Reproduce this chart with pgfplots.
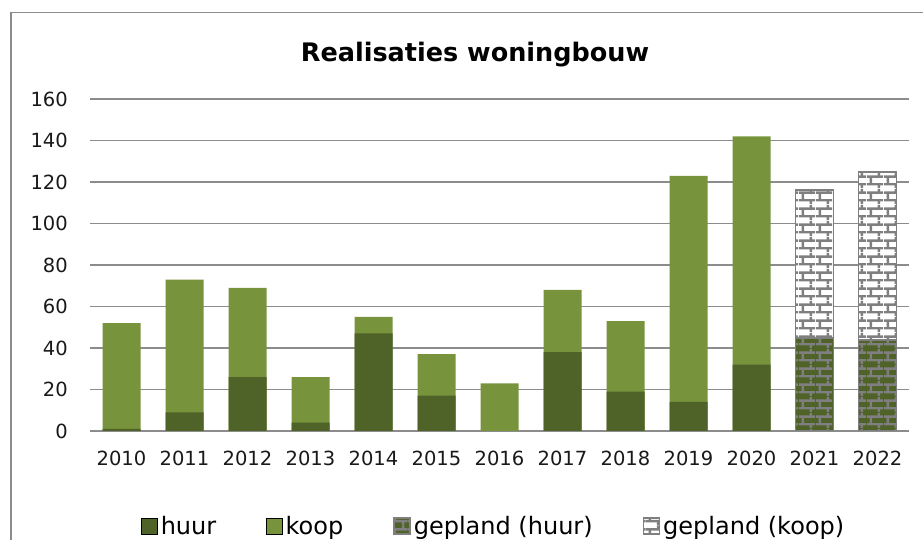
\documentclass[border=0pt]{standalone}
\usepackage{fontspec}
\setmainfont{DejaVu Sans}
\usepackage{pgfplots}
\pgfplotsset{compat=1.18}
\usetikzlibrary{patterns.meta}
\definecolor{huurc}{HTML}{4F6228}
\definecolor{koopc}{HTML}{77933C}
\definecolor{gridc}{HTML}{8C8C8C}
\definecolor{brickc}{HTML}{7F7F7F}
\tikzdeclarepattern{
  name=bricksEx, type=uncolored,
  bounding box={(0bp,0bp) and (17bp,16bp)},
  tile size={(17bp,16bp)},
  code={
    \fill (0bp,2.75bp) rectangle (17bp,5.25bp);
    \fill (0bp,10.75bp) rectangle (17bp,13.25bp);
    \fill (2.75bp,4bp) rectangle (5.25bp,12bp);
    \fill (11.25bp,12bp) rectangle (13.75bp,16bp);
    \fill (11.25bp,0bp) rectangle (13.75bp,4bp);
  }
}
\begin{document}
\begin{tikzpicture}
\useasboundingbox (0,0) rectangle (923bp,540bp);
\draw[gridc, line width=1.5bp] (11bp,-10bp) -- (11bp,527.5bp) -- (940bp,527.5bp);
\node[anchor=base, font=\fontsize{25.5bp}{30bp}\selectfont\bfseries] at (475bp,478.5bp) {Realisaties woningbouw};
\begin{axis}[
  at={(90bp,109bp)}, anchor=south west,
  scale only axis, width=819bp, height=332bp,
  xmin=-0.5, xmax=12.5, ymin=0, ymax=160,
  ytick={0,20,...,160},
  xtick={0,...,12},
  xticklabels={2010,2011,2012,2013,2014,2015,2016,2017,2018,2019,2020,2021,2022},
  axis x line*=bottom, axis y line*=left,
  y axis line style={draw=none},
  x axis line style={gridc, line width=2bp},
  major tick length=0pt,
  ymajorgrids, grid style={gridc, line width=1.7bp},
  /pgf/number format/assume math mode=true,
  tick label style={font=\fontsize{19.5bp}{23bp}\selectfont, text=black!90},
  yticklabel style={anchor=east, inner sep=0pt, xshift=-22bp},
  xticklabel style={anchor=north, inner sep=0pt, yshift=-20bp},
  legend image code/.code={\draw[#1] (0bp,-8bp) rectangle (16bp,8bp);},
  legend columns=4,
  legend style={draw=none, fill=none, at={(axis description cs:0.0625,-0.286)}, anchor=west,
    font=\fontsize{24bp}{28bp}\selectfont, inner sep=0pt,
    /tikz/every even column/.append style={column sep=48bp},
    /tikz/every odd column/.append style={column sep=1bp}},
]
% totals (huur + koop)
\addplot[ybar, bar width=38bp, bar shift=0pt, fill=koopc, draw=none, forget plot] coordinates {
(0,52) (1,73) (2,69) (3,26) (4,55) (5,37) (6,23) (7,68) (8,53) (9,123) (10,142)};
% huur
\addplot[ybar, bar width=38bp, bar shift=0pt, fill=huurc, draw=none, forget plot] coordinates {
(0,1) (1,9) (2,26) (3,4) (4,47) (5,17) (6,0) (7,38) (8,19) (9,14) (10,32)};
% gepland totals
\addplot[ybar, bar width=38bp, bar shift=0pt, fill=white, draw=brickc, line width=1.8bp,
  postaction={pattern=bricksEx, pattern color=brickc}, forget plot] coordinates {(11,116) (12,125)};
% gepland huur
\addplot[ybar, bar width=38bp, bar shift=0pt, fill=huurc, draw=brickc, line width=1.8bp,
  postaction={pattern=bricksEx, pattern color=brickc}, forget plot] coordinates {(11,45) (12,44)};
\addlegendimage{fill=huurc, draw=none}
\addlegendentry{huur}
\addlegendimage{fill=koopc, draw=none}
\addlegendentry{koop}
\addlegendimage{fill=huurc, draw=brickc, line width=1.5bp, postaction={pattern=bricksEx, pattern color=brickc}}
\addlegendentry{gepland (huur)}
\addlegendimage{fill=white, draw=brickc, line width=1.5bp, postaction={pattern=bricksEx, pattern color=brickc}}
\addlegendentry{gepland (koop)}
\end{axis}
\end{tikzpicture}
\end{document}
